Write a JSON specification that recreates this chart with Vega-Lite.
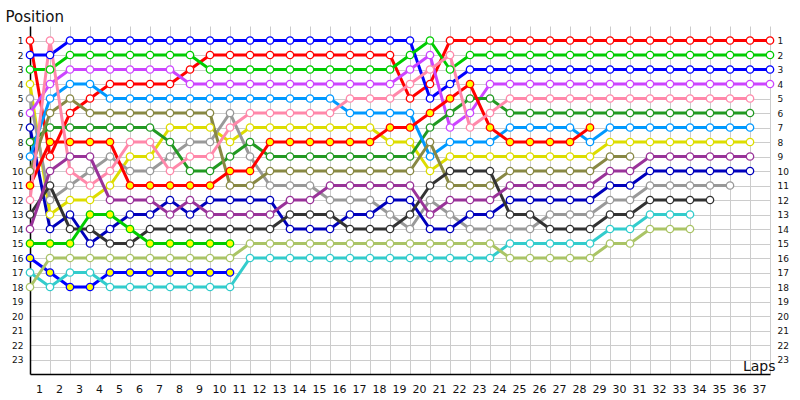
{
"$schema":"https://vega.github.io/schema/vega-lite/v6.json",
"width":740,"height":348,
"autosize":{"type":"none"},
"padding":{"left":30,"top":26,"right":30,"bottom":26},
"background":"white",
"config":{"font":"DejaVu Sans","view":{"stroke":null}},
"data":{"values":[
{"c":"A","l":0,"p":1},{"c":"A","l":1,"p":9},{"c":"A","l":2,"p":6},{"c":"A","l":3,"p":5},{"c":"A","l":4,"p":4},{"c":"A","l":5,"p":4},{"c":"A","l":6,"p":4},{"c":"A","l":7,"p":4},{"c":"A","l":8,"p":3},{"c":"A","l":9,"p":2},{"c":"A","l":10,"p":2},{"c":"A","l":11,"p":2},{"c":"A","l":12,"p":2},{"c":"A","l":13,"p":2},{"c":"A","l":14,"p":2},{"c":"A","l":15,"p":2},{"c":"A","l":16,"p":2},{"c":"A","l":17,"p":2},{"c":"A","l":18,"p":2},{"c":"A","l":19,"p":5},{"c":"A","l":20,"p":4},{"c":"A","l":21,"p":1},{"c":"A","l":22,"p":1},{"c":"A","l":23,"p":1},{"c":"A","l":24,"p":1},{"c":"A","l":25,"p":1},{"c":"A","l":26,"p":1},{"c":"A","l":27,"p":1},{"c":"A","l":28,"p":1},{"c":"A","l":29,"p":1},{"c":"A","l":30,"p":1},{"c":"A","l":31,"p":1},{"c":"A","l":32,"p":1},{"c":"A","l":33,"p":1},{"c":"A","l":34,"p":1},{"c":"A","l":35,"p":1},{"c":"A","l":36,"p":1},{"c":"A","l":37,"p":1},
{"c":"B","l":0,"p":2},{"c":"B","l":1,"p":2},{"c":"B","l":2,"p":1},{"c":"B","l":3,"p":1},{"c":"B","l":4,"p":1},{"c":"B","l":5,"p":1},{"c":"B","l":6,"p":1},{"c":"B","l":7,"p":1},{"c":"B","l":8,"p":1},{"c":"B","l":9,"p":1},{"c":"B","l":10,"p":1},{"c":"B","l":11,"p":1},{"c":"B","l":12,"p":1},{"c":"B","l":13,"p":1},{"c":"B","l":14,"p":1},{"c":"B","l":15,"p":1},{"c":"B","l":16,"p":1},{"c":"B","l":17,"p":1},{"c":"B","l":18,"p":1},{"c":"B","l":19,"p":1},{"c":"B","l":20,"p":5},{"c":"B","l":21,"p":4},{"c":"B","l":22,"p":3},{"c":"B","l":23,"p":3},{"c":"B","l":24,"p":3},{"c":"B","l":25,"p":3},{"c":"B","l":26,"p":3},{"c":"B","l":27,"p":3},{"c":"B","l":28,"p":3},{"c":"B","l":29,"p":3},{"c":"B","l":30,"p":3},{"c":"B","l":31,"p":3},{"c":"B","l":32,"p":3},{"c":"B","l":33,"p":3},{"c":"B","l":34,"p":3},{"c":"B","l":35,"p":3},{"c":"B","l":36,"p":3},{"c":"B","l":37,"p":3},
{"c":"C","l":0,"p":3},{"c":"C","l":1,"p":3},{"c":"C","l":2,"p":2},{"c":"C","l":3,"p":2},{"c":"C","l":4,"p":2},{"c":"C","l":5,"p":2},{"c":"C","l":6,"p":2},{"c":"C","l":7,"p":2},{"c":"C","l":8,"p":2},{"c":"C","l":9,"p":3},{"c":"C","l":10,"p":3},{"c":"C","l":11,"p":3},{"c":"C","l":12,"p":3},{"c":"C","l":13,"p":3},{"c":"C","l":14,"p":3},{"c":"C","l":15,"p":3},{"c":"C","l":16,"p":3},{"c":"C","l":17,"p":3},{"c":"C","l":18,"p":3},{"c":"C","l":19,"p":2},{"c":"C","l":20,"p":1},{"c":"C","l":21,"p":3},{"c":"C","l":22,"p":2},{"c":"C","l":23,"p":2},{"c":"C","l":24,"p":2},{"c":"C","l":25,"p":2},{"c":"C","l":26,"p":2},{"c":"C","l":27,"p":2},{"c":"C","l":28,"p":2},{"c":"C","l":29,"p":2},{"c":"C","l":30,"p":2},{"c":"C","l":31,"p":2},{"c":"C","l":32,"p":2},{"c":"C","l":33,"p":2},{"c":"C","l":34,"p":2},{"c":"C","l":35,"p":2},{"c":"C","l":36,"p":2},{"c":"C","l":37,"p":2},
{"c":"D","l":0,"p":4},{"c":"D","l":1,"p":13},{"c":"D","l":2,"p":12},{"c":"D","l":3,"p":12},{"c":"D","l":4,"p":11},{"c":"D","l":5,"p":9},{"c":"D","l":6,"p":9},{"c":"D","l":7,"p":7},{"c":"D","l":8,"p":7},{"c":"D","l":9,"p":7},{"c":"D","l":10,"p":8},{"c":"D","l":11,"p":7},{"c":"D","l":12,"p":7},{"c":"D","l":13,"p":7},{"c":"D","l":14,"p":7},{"c":"D","l":15,"p":7},{"c":"D","l":16,"p":7},{"c":"D","l":17,"p":7},{"c":"D","l":18,"p":8},{"c":"D","l":19,"p":8},{"c":"D","l":20,"p":10},{"c":"D","l":21,"p":9},{"c":"D","l":22,"p":9},{"c":"D","l":23,"p":9},{"c":"D","l":24,"p":9},{"c":"D","l":25,"p":9},{"c":"D","l":26,"p":9},{"c":"D","l":27,"p":9},{"c":"D","l":28,"p":9},{"c":"D","l":29,"p":8},{"c":"D","l":30,"p":8},{"c":"D","l":31,"p":8},{"c":"D","l":32,"p":8},{"c":"D","l":33,"p":8},{"c":"D","l":34,"p":8},{"c":"D","l":35,"p":8},{"c":"D","l":36,"p":8},
{"c":"E","l":0,"p":5},{"c":"E","l":1,"p":12},{"c":"E","l":2,"p":11},{"c":"E","l":3,"p":10},{"c":"E","l":4,"p":9},{"c":"E","l":5,"p":10},{"c":"E","l":6,"p":10},{"c":"E","l":7,"p":9},{"c":"E","l":8,"p":8},{"c":"E","l":9,"p":8},{"c":"E","l":10,"p":6},{"c":"E","l":11,"p":9},{"c":"E","l":12,"p":11},{"c":"E","l":13,"p":11},{"c":"E","l":14,"p":11},{"c":"E","l":15,"p":12},{"c":"E","l":16,"p":12},{"c":"E","l":17,"p":12},{"c":"E","l":18,"p":13},{"c":"E","l":19,"p":14},{"c":"E","l":20,"p":12},{"c":"E","l":21,"p":13},{"c":"E","l":22,"p":14},{"c":"E","l":23,"p":14},{"c":"E","l":24,"p":14},{"c":"E","l":25,"p":14},{"c":"E","l":26,"p":13},{"c":"E","l":27,"p":13},{"c":"E","l":28,"p":13},{"c":"E","l":29,"p":12},{"c":"E","l":30,"p":12},{"c":"E","l":31,"p":11},{"c":"E","l":32,"p":11},{"c":"E","l":33,"p":11},{"c":"E","l":34,"p":11},{"c":"E","l":35,"p":11},
{"c":"F","l":0,"p":6},{"c":"F","l":1,"p":4},{"c":"F","l":2,"p":3},{"c":"F","l":3,"p":3},{"c":"F","l":4,"p":3},{"c":"F","l":5,"p":3},{"c":"F","l":6,"p":3},{"c":"F","l":7,"p":3},{"c":"F","l":8,"p":4},{"c":"F","l":9,"p":4},{"c":"F","l":10,"p":4},{"c":"F","l":11,"p":4},{"c":"F","l":12,"p":4},{"c":"F","l":13,"p":4},{"c":"F","l":14,"p":4},{"c":"F","l":15,"p":4},{"c":"F","l":16,"p":4},{"c":"F","l":17,"p":4},{"c":"F","l":18,"p":4},{"c":"F","l":19,"p":3},{"c":"F","l":20,"p":2},{"c":"F","l":21,"p":7},{"c":"F","l":22,"p":6},{"c":"F","l":23,"p":4},{"c":"F","l":24,"p":4},{"c":"F","l":25,"p":4},{"c":"F","l":26,"p":4},{"c":"F","l":27,"p":4},{"c":"F","l":28,"p":4},{"c":"F","l":29,"p":4},{"c":"F","l":30,"p":4},{"c":"F","l":31,"p":4},{"c":"F","l":32,"p":4},{"c":"F","l":33,"p":4},{"c":"F","l":34,"p":4},{"c":"F","l":35,"p":4},{"c":"F","l":36,"p":4},{"c":"F","l":37,"p":4},
{"c":"G","l":0,"p":7},{"c":"G","l":1,"p":14},{"c":"G","l":2,"p":13},{"c":"G","l":3,"p":15},{"c":"G","l":4,"p":14},{"c":"G","l":5,"p":13},{"c":"G","l":6,"p":13},{"c":"G","l":7,"p":12},{"c":"G","l":8,"p":13},{"c":"G","l":9,"p":12},{"c":"G","l":10,"p":12},{"c":"G","l":11,"p":12},{"c":"G","l":12,"p":12},{"c":"G","l":13,"p":14},{"c":"G","l":14,"p":14},{"c":"G","l":15,"p":14},{"c":"G","l":16,"p":13},{"c":"G","l":17,"p":13},{"c":"G","l":18,"p":12},{"c":"G","l":19,"p":12},{"c":"G","l":20,"p":14},{"c":"G","l":21,"p":14},{"c":"G","l":22,"p":13},{"c":"G","l":23,"p":13},{"c":"G","l":24,"p":12},{"c":"G","l":25,"p":12},{"c":"G","l":26,"p":12},{"c":"G","l":27,"p":12},{"c":"G","l":28,"p":12},{"c":"G","l":29,"p":11},{"c":"G","l":30,"p":11},{"c":"G","l":31,"p":10},{"c":"G","l":32,"p":10},{"c":"G","l":33,"p":10},{"c":"G","l":34,"p":10},{"c":"G","l":35,"p":10},{"c":"G","l":36,"p":10},
{"c":"H","l":0,"p":8},{"c":"H","l":1,"p":7},{"c":"H","l":2,"p":7},{"c":"H","l":3,"p":7},{"c":"H","l":4,"p":7},{"c":"H","l":5,"p":7},{"c":"H","l":6,"p":7},{"c":"H","l":7,"p":8},{"c":"H","l":8,"p":10},{"c":"H","l":9,"p":10},{"c":"H","l":10,"p":9},{"c":"H","l":11,"p":8},{"c":"H","l":12,"p":9},{"c":"H","l":13,"p":9},{"c":"H","l":14,"p":9},{"c":"H","l":15,"p":9},{"c":"H","l":16,"p":9},{"c":"H","l":17,"p":9},{"c":"H","l":18,"p":9},{"c":"H","l":19,"p":9},{"c":"H","l":20,"p":7},{"c":"H","l":21,"p":6},{"c":"H","l":22,"p":5},{"c":"H","l":23,"p":5},{"c":"H","l":24,"p":6},{"c":"H","l":25,"p":6},{"c":"H","l":26,"p":6},{"c":"H","l":27,"p":6},{"c":"H","l":28,"p":6},{"c":"H","l":29,"p":6},{"c":"H","l":30,"p":6},{"c":"H","l":31,"p":6},{"c":"H","l":32,"p":6},{"c":"H","l":33,"p":6},{"c":"H","l":34,"p":6},{"c":"H","l":35,"p":6},{"c":"H","l":36,"p":6},
{"c":"I","l":0,"p":9},{"c":"I","l":1,"p":5},{"c":"I","l":2,"p":4},{"c":"I","l":3,"p":4},{"c":"I","l":4,"p":5},{"c":"I","l":5,"p":5},{"c":"I","l":6,"p":5},{"c":"I","l":7,"p":5},{"c":"I","l":8,"p":5},{"c":"I","l":9,"p":5},{"c":"I","l":10,"p":5},{"c":"I","l":11,"p":5},{"c":"I","l":12,"p":5},{"c":"I","l":13,"p":5},{"c":"I","l":14,"p":5},{"c":"I","l":15,"p":5},{"c":"I","l":16,"p":6},{"c":"I","l":17,"p":6},{"c":"I","l":18,"p":6},{"c":"I","l":19,"p":6},{"c":"I","l":20,"p":9},{"c":"I","l":21,"p":8},{"c":"I","l":22,"p":8},{"c":"I","l":23,"p":8},{"c":"I","l":24,"p":7},{"c":"I","l":25,"p":7},{"c":"I","l":26,"p":7},{"c":"I","l":27,"p":7},{"c":"I","l":28,"p":8},{"c":"I","l":29,"p":7},{"c":"I","l":30,"p":7},{"c":"I","l":31,"p":7},{"c":"I","l":32,"p":7},{"c":"I","l":33,"p":7},{"c":"I","l":34,"p":7},{"c":"I","l":35,"p":7},{"c":"I","l":36,"p":7},
{"c":"J","l":0,"p":10},{"c":"J","l":1,"p":6},{"c":"J","l":2,"p":5},{"c":"J","l":3,"p":6},{"c":"J","l":4,"p":6},{"c":"J","l":5,"p":6},{"c":"J","l":6,"p":6},{"c":"J","l":7,"p":6},{"c":"J","l":8,"p":6},{"c":"J","l":9,"p":6},{"c":"J","l":10,"p":11},{"c":"J","l":11,"p":11},{"c":"J","l":12,"p":10},{"c":"J","l":13,"p":10},{"c":"J","l":14,"p":10},{"c":"J","l":15,"p":10},{"c":"J","l":16,"p":10},{"c":"J","l":17,"p":10},{"c":"J","l":18,"p":10},{"c":"J","l":19,"p":10},{"c":"J","l":20,"p":8},{"c":"J","l":21,"p":11},{"c":"J","l":22,"p":11},{"c":"J","l":23,"p":11},{"c":"J","l":24,"p":10},{"c":"J","l":25,"p":10},{"c":"J","l":26,"p":10},{"c":"J","l":27,"p":10},{"c":"J","l":28,"p":10},{"c":"J","l":29,"p":9},{"c":"J","l":30,"p":9},
{"c":"K","l":0,"p":11},{"c":"K","l":1,"p":8},{"c":"K","l":2,"p":8},{"c":"K","l":3,"p":8},{"c":"K","l":4,"p":8},{"c":"K","l":5,"p":11},{"c":"K","l":6,"p":11},{"c":"K","l":7,"p":11},{"c":"K","l":8,"p":11},{"c":"K","l":9,"p":11},{"c":"K","l":10,"p":10},{"c":"K","l":11,"p":10},{"c":"K","l":12,"p":8},{"c":"K","l":13,"p":8},{"c":"K","l":14,"p":8},{"c":"K","l":15,"p":8},{"c":"K","l":16,"p":8},{"c":"K","l":17,"p":8},{"c":"K","l":18,"p":7},{"c":"K","l":19,"p":7},{"c":"K","l":20,"p":6},{"c":"K","l":21,"p":5},{"c":"K","l":22,"p":4},{"c":"K","l":23,"p":7},{"c":"K","l":24,"p":8},{"c":"K","l":25,"p":8},{"c":"K","l":26,"p":8},{"c":"K","l":27,"p":8},{"c":"K","l":28,"p":7},
{"c":"L","l":0,"p":12},{"c":"L","l":1,"p":1},{"c":"L","l":2,"p":10},{"c":"L","l":3,"p":11},{"c":"L","l":4,"p":10},{"c":"L","l":5,"p":8},{"c":"L","l":6,"p":8},{"c":"L","l":7,"p":10},{"c":"L","l":8,"p":9},{"c":"L","l":9,"p":9},{"c":"L","l":10,"p":7},{"c":"L","l":11,"p":6},{"c":"L","l":12,"p":6},{"c":"L","l":13,"p":6},{"c":"L","l":14,"p":6},{"c":"L","l":15,"p":6},{"c":"L","l":16,"p":5},{"c":"L","l":17,"p":5},{"c":"L","l":18,"p":5},{"c":"L","l":19,"p":4},{"c":"L","l":20,"p":3},{"c":"L","l":21,"p":2},{"c":"L","l":22,"p":7},{"c":"L","l":23,"p":6},{"c":"L","l":24,"p":5},{"c":"L","l":25,"p":5},{"c":"L","l":26,"p":5},{"c":"L","l":27,"p":5},{"c":"L","l":28,"p":5},{"c":"L","l":29,"p":5},{"c":"L","l":30,"p":5},{"c":"L","l":31,"p":5},{"c":"L","l":32,"p":5},{"c":"L","l":33,"p":5},{"c":"L","l":34,"p":5},{"c":"L","l":35,"p":5},{"c":"L","l":36,"p":5},
{"c":"M","l":0,"p":13},{"c":"M","l":1,"p":11},{"c":"M","l":2,"p":14},{"c":"M","l":3,"p":14},{"c":"M","l":4,"p":15},{"c":"M","l":5,"p":15},{"c":"M","l":6,"p":14},{"c":"M","l":7,"p":14},{"c":"M","l":8,"p":14},{"c":"M","l":9,"p":14},{"c":"M","l":10,"p":14},{"c":"M","l":11,"p":14},{"c":"M","l":12,"p":14},{"c":"M","l":13,"p":13},{"c":"M","l":14,"p":13},{"c":"M","l":15,"p":13},{"c":"M","l":16,"p":14},{"c":"M","l":17,"p":14},{"c":"M","l":18,"p":14},{"c":"M","l":19,"p":13},{"c":"M","l":20,"p":11},{"c":"M","l":21,"p":10},{"c":"M","l":22,"p":10},{"c":"M","l":23,"p":10},{"c":"M","l":24,"p":13},{"c":"M","l":25,"p":13},{"c":"M","l":26,"p":14},{"c":"M","l":27,"p":14},{"c":"M","l":28,"p":14},{"c":"M","l":29,"p":13},{"c":"M","l":30,"p":13},{"c":"M","l":31,"p":12},{"c":"M","l":32,"p":12},{"c":"M","l":33,"p":12},{"c":"M","l":34,"p":12},
{"c":"N","l":0,"p":14},{"c":"N","l":1,"p":10},{"c":"N","l":2,"p":9},{"c":"N","l":3,"p":9},{"c":"N","l":4,"p":12},{"c":"N","l":5,"p":12},{"c":"N","l":6,"p":12},{"c":"N","l":7,"p":13},{"c":"N","l":8,"p":12},{"c":"N","l":9,"p":13},{"c":"N","l":10,"p":13},{"c":"N","l":11,"p":13},{"c":"N","l":12,"p":13},{"c":"N","l":13,"p":12},{"c":"N","l":14,"p":12},{"c":"N","l":15,"p":11},{"c":"N","l":16,"p":11},{"c":"N","l":17,"p":11},{"c":"N","l":18,"p":11},{"c":"N","l":19,"p":11},{"c":"N","l":20,"p":13},{"c":"N","l":21,"p":12},{"c":"N","l":22,"p":12},{"c":"N","l":23,"p":12},{"c":"N","l":24,"p":11},{"c":"N","l":25,"p":11},{"c":"N","l":26,"p":11},{"c":"N","l":27,"p":11},{"c":"N","l":28,"p":11},{"c":"N","l":29,"p":10},{"c":"N","l":30,"p":10},{"c":"N","l":31,"p":9},{"c":"N","l":32,"p":9},{"c":"N","l":33,"p":9},{"c":"N","l":34,"p":9},{"c":"N","l":35,"p":9},{"c":"N","l":36,"p":9},
{"c":"O","l":0,"p":15},{"c":"O","l":1,"p":15},{"c":"O","l":2,"p":15},{"c":"O","l":3,"p":13},{"c":"O","l":4,"p":13},{"c":"O","l":5,"p":14},{"c":"O","l":6,"p":15},{"c":"O","l":7,"p":15},{"c":"O","l":8,"p":15},{"c":"O","l":9,"p":15},{"c":"O","l":10,"p":15},
{"c":"P","l":0,"p":16},{"c":"P","l":1,"p":17},{"c":"P","l":2,"p":18},{"c":"P","l":3,"p":18},{"c":"P","l":4,"p":17},{"c":"P","l":5,"p":17},{"c":"P","l":6,"p":17},{"c":"P","l":7,"p":17},{"c":"P","l":8,"p":17},{"c":"P","l":9,"p":17},{"c":"P","l":10,"p":17},
{"c":"Q","l":0,"p":17},{"c":"Q","l":1,"p":18},{"c":"Q","l":2,"p":17},{"c":"Q","l":3,"p":17},{"c":"Q","l":4,"p":18},{"c":"Q","l":5,"p":18},{"c":"Q","l":6,"p":18},{"c":"Q","l":7,"p":18},{"c":"Q","l":8,"p":18},{"c":"Q","l":9,"p":18},{"c":"Q","l":10,"p":18},{"c":"Q","l":11,"p":16},{"c":"Q","l":12,"p":16},{"c":"Q","l":13,"p":16},{"c":"Q","l":14,"p":16},{"c":"Q","l":15,"p":16},{"c":"Q","l":16,"p":16},{"c":"Q","l":17,"p":16},{"c":"Q","l":18,"p":16},{"c":"Q","l":19,"p":16},{"c":"Q","l":20,"p":16},{"c":"Q","l":21,"p":16},{"c":"Q","l":22,"p":16},{"c":"Q","l":23,"p":16},{"c":"Q","l":24,"p":15},{"c":"Q","l":25,"p":15},{"c":"Q","l":26,"p":15},{"c":"Q","l":27,"p":15},{"c":"Q","l":28,"p":15},{"c":"Q","l":29,"p":14},{"c":"Q","l":30,"p":14},{"c":"Q","l":31,"p":13},{"c":"Q","l":32,"p":13},{"c":"Q","l":33,"p":13},
{"c":"R","l":0,"p":18},{"c":"R","l":1,"p":16},{"c":"R","l":2,"p":16},{"c":"R","l":3,"p":16},{"c":"R","l":4,"p":16},{"c":"R","l":5,"p":16},{"c":"R","l":6,"p":16},{"c":"R","l":7,"p":16},{"c":"R","l":8,"p":16},{"c":"R","l":9,"p":16},{"c":"R","l":10,"p":16},{"c":"R","l":11,"p":15},{"c":"R","l":12,"p":15},{"c":"R","l":13,"p":15},{"c":"R","l":14,"p":15},{"c":"R","l":15,"p":15},{"c":"R","l":16,"p":15},{"c":"R","l":17,"p":15},{"c":"R","l":18,"p":15},{"c":"R","l":19,"p":15},{"c":"R","l":20,"p":15},{"c":"R","l":21,"p":15},{"c":"R","l":22,"p":15},{"c":"R","l":23,"p":15},{"c":"R","l":24,"p":16},{"c":"R","l":25,"p":16},{"c":"R","l":26,"p":16},{"c":"R","l":27,"p":16},{"c":"R","l":28,"p":16},{"c":"R","l":29,"p":15},{"c":"R","l":30,"p":15},{"c":"R","l":31,"p":14},{"c":"R","l":32,"p":14},{"c":"R","l":33,"p":14}
]},
"encoding":{
"x":{"field":"l","type":"quantitative","scale":{"domain":[0,37],"nice":false,"zero":false},
"axis":{"values":[1,2,3,4,5,6,7,8,9,10,11,12,13,14,15,16,17,18,19,20,21,22,23,24,25,26,27,28,29,30,31,32,33,34,35,36,37],
"labelOffset":-11,"tickSize":0,"grid":true,"gridColor":"#cccccc","gridWidth":1,"domainColor":"#000000","domainWidth":1.5,
"labelFontSize":11,"labelColor":"#111111","labelPadding":9,"labelOverlap":false,"labelBound":false,"labelFlush":false,
"title":"Laps","titleX":745,"titleY":-4,"titleAlign":"right","titleBaseline":"alphabetic","titleAnchor":null,"titleFontSize":14,"titleFontWeight":"normal","titleColor":"#111111"}}
},
"layer":[
{"mark":{"type":"line","strokeWidth":3},
"encoding":{
"y":{"field":"p","type":"quantitative","scale":{"domain":[0,24],"reverse":true,"nice":false,"zero":false},
"axis":{"orient":"right","values":[1,2,3,4,5,6,7,8,9,10,11,12,13,14,15,16,17,18,19,20,21,22,23],"grid":false,"domain":false,"ticks":false,"labelPadding":7,"labelFontSize":9,"labelColor":"#111111","title":null}},
"color":{"field":"c","type":"nominal","legend":null,"scale":{"domain":["A","B","C","D","E","F","G","H","I","J","K","L","M","N","O","P","Q","R"],"range":["#ff0000","#0000ff","#00cc00","#dddd00","#999999","#cc44ff","#0000bb","#229922","#0099ff","#888844","#ff0000","#ff88aa","#333333","#993399","#00cc00","#0000ff","#33cccc","#aac466"]}},
"detail":{"field":"c"}}},
{"mark":{"type":"point","filled":true,"size":55,"strokeWidth":1.3,"opacity":1},
"encoding":{
"y":{"field":"p","type":"quantitative","scale":{"domain":[0,24],"reverse":true,"nice":false,"zero":false},
"axis":{"orient":"left","values":[1,2,3,4,5,6,7,8,9,10,11,12,13,14,15,16,17,18,19,20,21,22,23],"grid":true,"gridColor":"#cccccc","domainColor":"#000000","domainWidth":1.5,"ticks":false,"labelPadding":7,"labelFontSize":9,"labelColor":"#111111",
"title":"Position","titleAngle":0,"titleX":-25,"titleY":-5,"titleAlign":"left","titleBaseline":"alphabetic","titleFontSize":15,"titleFontWeight":"normal","titleColor":"#111111"}},
"stroke":{"field":"c","type":"nominal","legend":null,"scale":{"domain":["A","B","C","D","E","F","G","H","I","J","K","L","M","N","O","P","Q","R"],"range":["#ff0000","#0000ff","#00cc00","#dddd00","#999999","#cc44ff","#0000bb","#229922","#0099ff","#888844","#ff0000","#ff88aa","#333333","#993399","#00cc00","#0000ff","#33cccc","#aac466"]}},
"fill":{"field":"c","type":"nominal","legend":null,"scale":{"domain":["A","B","C","D","E","F","G","H","I","J","K","L","M","N","O","P","Q","R"],"range":["#ffffff","#ffffff","#ffffff","#ffffff","#ffffff","#ffffff","#ffffff","#ffffff","#ffffff","#ffffff","#ffff00","#ffffff","#ffffff","#ffffff","#ffff00","#ffff00","#ffffff","#ffffff"]}}}}
],
"resolve":{"axis":{"y":"independent"}}
}
